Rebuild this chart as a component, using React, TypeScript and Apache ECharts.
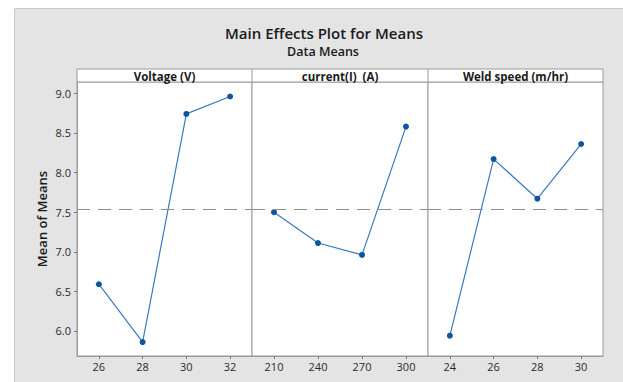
import React, { useEffect, useRef } from "react";
import * as echarts from "echarts";

const voltageLevels = [26, 28, 30, 32];
const voltageMeans = [6.59, 5.86, 8.74, 8.96];
const currentLevels = [210, 240, 270, 300];
const currentMeans = [7.5, 7.11, 6.96, 8.58];
const speedLevels = [24, 26, 28, 30];
const speedMeans = [5.94, 8.17, 7.67, 8.36];
const panelTitles = ["Voltage (V)", "current(I)  (A)", "Weld speed (m/hr)"];
const yTicks = [6.0, 6.5, 7.0, 7.5, 8.0, 8.5, 9.0];

const FONT = "'Open Sans', 'Noto Sans', sans-serif";

export default function App() {
  const ref = useRef<HTMLDivElement>(null);
  useEffect(() => {
    if (!ref.current) return;
    const chart = echarts.init(ref.current, null, { renderer: "svg" });
    const all = [...voltageMeans, ...currentMeans, ...speedMeans];
    const grandMean = all.reduce((a, b) => a + b, 0) / all.length;

    const panels = [
      { levels: voltageLevels, means: voltageMeans, min: 25, max: 33, left: 77, width: 175 },
      { levels: currentLevels, means: currentMeans, min: 195, max: 315, left: 252, width: 176 },
      { levels: speedLevels, means: speedMeans, min: 23, max: 31, left: 428, width: 175 },
    ];
    const top = 82;
    const height = 274;
    const yMin = 5.684;
    const yMax = 9.143;

    const grids = panels.map((p) => ({
      left: p.left,
      top,
      width: p.width,
      height,
      show: true,
      backgroundColor: "#ffffff",
      borderColor: "#9a9a9a",
      borderWidth: 1,
    }));
    const xAxes = panels.map((p, i) => ({
      type: "value",
      gridIndex: i,
      min: p.min,
      max: p.max,
      splitLine: { show: false },
      axisLine: { show: true, lineStyle: { color: "#9a9a9a" } },
      axisTick: { show: true, length: 3, lineStyle: { color: "#777" }, customValues: p.levels },
      axisLabel: { color: "#2a2a2a", fontSize: 11, fontFamily: FONT, margin: 5, customValues: p.levels },
    }));
    const yAxes = panels.map((p, i) => ({
      type: "value",
      gridIndex: i,
      min: yMin,
      max: yMax,
      splitLine: { show: false },
      axisLine: { show: i === 0, lineStyle: { color: "#9a9a9a" } },
      axisTick: { show: i === 0, length: 3, lineStyle: { color: "#777" }, customValues: yTicks },
      axisLabel: {
        show: i === 0,
        color: "#2a2a2a",
        fontSize: 11,
        fontFamily: FONT,
        margin: 6,
        customValues: yTicks,
        formatter: (v: number) => v.toFixed(1),
      },
      name: i === 0 ? "Mean of Means" : "",
      nameLocation: "middle",
      nameGap: 29,
      nameRotate: 90,
      nameTextStyle: { color: "#1a1a1a", fontSize: 13, fontWeight: 600, fontFamily: FONT },
    }));
    const series = panels.map((p, i) => ({
      type: "line",
      xAxisIndex: i,
      yAxisIndex: i,
      data: p.levels.map((x, k) => [x, p.means[k]]),
      symbol: "circle",
      symbolSize: 6,
      itemStyle: { color: "#0d55a3" },
      lineStyle: { color: "#3a78c0", width: 1.2 },
      markLine: {
        silent: true,
        symbol: "none",
        label: { show: false },
        lineStyle: { color: "#8f8f8f", type: [13, 8], width: 1 },
        data: [{ yAxis: grandMean }],
      },
    }));

    const graphic: any[] = [
      { type: "rect", shape: { x: 14.5, y: 8.5, width: 620, height: 380 }, style: { fill: "#e4e4e4", stroke: "#c9c9c9", lineWidth: 1 }, z: -10 },
      { type: "rect", shape: { x: 77, y: 69, width: 526, height: 13 }, style: { fill: "#ffffff", stroke: "#9a9a9a", lineWidth: 1 } },
      { type: "line", shape: { x1: 252, y1: 69, x2: 252, y2: 82 }, style: { stroke: "#9a9a9a", lineWidth: 1 } },
      { type: "line", shape: { x1: 428, y1: 69, x2: 428, y2: 82 }, style: { stroke: "#9a9a9a", lineWidth: 1 } },
      {
        type: "text",
        x: 324,
        y: 32.5,
        style: { text: "Main Effects Plot for Means", fill: "#1a1a1a", font: `600 15px ${FONT}`, align: "center", verticalAlign: "middle", lineHeight: 17 },
      },
      {
        type: "text",
        x: 323,
        y: 51.5,
        style: { text: "Data Means", fill: "#1a1a1a", font: `600 12.5px ${FONT}`, align: "center", verticalAlign: "middle", lineHeight: 14 },
      },
    ];
    panels.forEach((p, i) => {
      graphic.push({
        type: "text",
        x: p.left + p.width / 2,
        y: 76,
        style: { text: panelTitles[i], fill: "#1a1a1a", font: `700 11.5px ${FONT}`, align: "center", verticalAlign: "middle" },
      });
    });

    chart.setOption({
      animation: false,
      backgroundColor: "#ffffff",
      grid: grids,
      xAxis: xAxes,
      yAxis: yAxes,
      series,
      graphic,
    });
    return () => chart.dispose();
  }, []);
  return <div ref={ref} style={{ position: "fixed", left: 0, top: 0, width: 623, height: 382 }} />;
}
